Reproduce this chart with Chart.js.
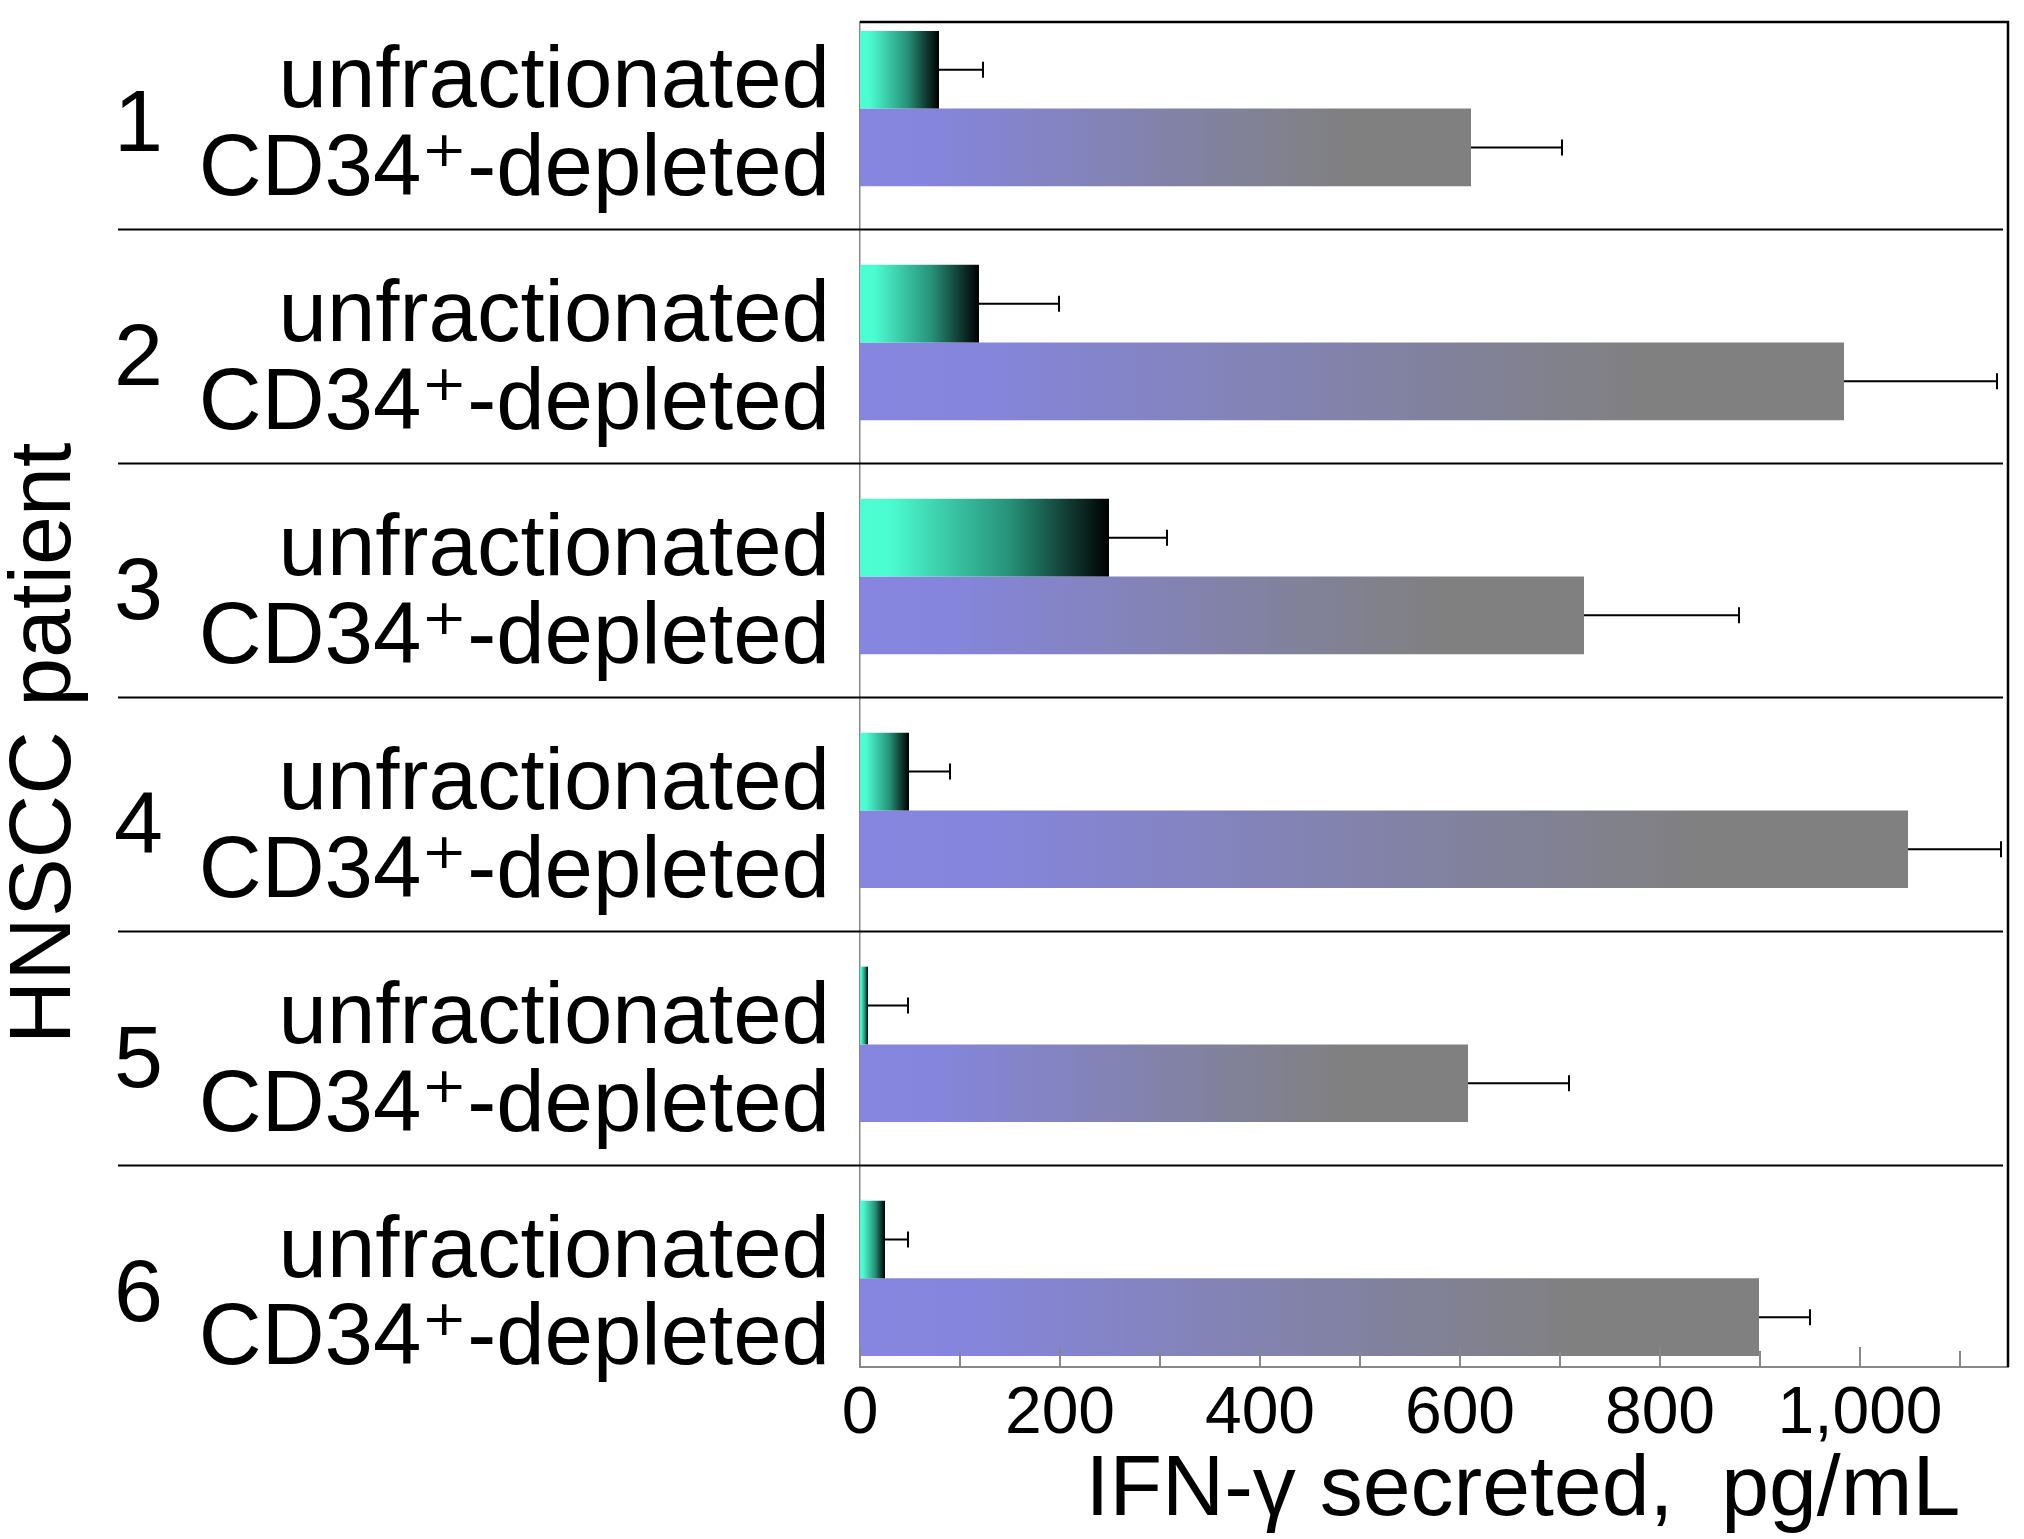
<!DOCTYPE html>
<html>
<head>
<meta charset="utf-8">
<script src="https://cdn.jsdelivr.net/npm/chart.js@4.4.1/dist/chart.umd.min.js"></script>
<style>
  html, body { margin: 0; padding: 0; background: #fff; }
  canvas { display: block; }
</style>
</head>
<body>
<canvas id="graficoIfn" width="2024" height="1539"></canvas>
<script>
// datos (pg/mL)
const patients = ['1', '2', '3', '4', '5', '6'];
const groupLabels = ['unfractionated', 'CD34\u207A-depleted'];
const unfracValues = [79, 119, 249, 49, 8, 25];
const unfracErrors = [44, 80, 58, 41, 40, 23];
const depletedValues = [611, 984, 724, 1048, 608, 899];
const depletedErrors = [91, 153, 155, 93, 101, 51];
const xTickValues = [0, 100, 200, 300, 400, 500, 600, 700, 800, 900, 1000, 1100];
const xTickLabels = ['0', '', '200', '', '400', '', '600', '', '800', '', '1,000', ''];

const FONT = "'Liberation Sans', Arial, 'DejaVu Sans', sans-serif";
const Y_MIN = -0.37, Y_MAX = 5.379;
const LABEL_SHIFT = 0.078;

Chart.defaults.font.family = FONT;
Chart.defaults.color = '#000';

// degradado horizontal de cada barra, desde 0 hasta su valor
function barGradient(stops) {
    return function (context) {
        const chart = context.chart;
        if (!chart.chartArea || context.type !== 'data') return stops[0][1];
        const x = chart.scales.x;
        const x0 = x.getPixelForValue(0);
        const x1 = Math.max(x.getPixelForValue(context.parsed.x), x0 + 1);
        const g = chart.ctx.createLinearGradient(x0, 0, x1, 0);
        stops.forEach(s => g.addColorStop(s[0], s[1]));
        return g;
    };
}

const decoPlugin = {
    id: 'deco',
    afterDatasetsDraw(chart) {
        const ctx = chart.ctx;
        const x = chart.scales.x;
        ctx.save();
        ctx.strokeStyle = '#000';
        ctx.lineWidth = 2;
        chart.data.datasets.forEach((ds, d) => {
            const meta = chart.getDatasetMeta(d);
            meta.data.forEach((bar, i) => {
                const xEnd = x.getPixelForValue(ds.data[i].x + ds.errors[i]);
                ctx.beginPath();
                ctx.moveTo(bar.x, bar.y);
                ctx.lineTo(xEnd, bar.y);
                ctx.moveTo(xEnd, bar.y - 8);
                ctx.lineTo(xEnd, bar.y + 8);
                ctx.stroke();
            });
        });
        ctx.restore();
    },
    afterDraw(chart) {
        const ctx = chart.ctx;
        const area = chart.chartArea;
        const x = chart.scales.x;
        const y = chart.scales.y;
        ctx.save();

        // lineas separadoras entre pacientes
        ctx.strokeStyle = '#000';
        ctx.lineWidth = 2;
        for (let k = 0; k < patients.length - 1; k++) {
            const py = Math.round(y.getPixelForValue(k + 0.515)) + 0.5;
            ctx.beginPath();
            ctx.moveTo(118, py);
            ctx.lineTo(area.right - 5, py);
            ctx.stroke();
        }

        // marcas del eje x hacia dentro
        ctx.strokeStyle = '#888';
        xTickValues.forEach((v, i) => {
            const px = x.getPixelForValue(v);
            const len = xTickLabels[i] ? 20 : 16;
            ctx.beginPath();
            ctx.moveTo(px, area.bottom);
            ctx.lineTo(px, area.bottom - len);
            ctx.stroke();
        });

        // marco superior y derecho
        ctx.strokeStyle = '#000';
        ctx.lineWidth = 2.5;
        ctx.beginPath();
        ctx.moveTo(area.left, area.top);
        ctx.lineTo(area.right, area.top);
        ctx.lineTo(area.right, area.bottom);
        ctx.stroke();
        ctx.restore();
    }
};

const ctx = document.getElementById('graficoIfn').getContext('2d');

new Chart(ctx, {
    type: 'bar',
    data: {
        datasets: [
            {
                label: groupLabels[0],
                data: unfracValues.map((v, i) => ({ x: v, y: i })),
                errors: unfracErrors,
                backgroundColor: barGradient([[0, '#4effd3'], [0.12, '#4cfcd1'], [0.6, '#27927a'], [1, '#000000']]),
                borderWidth: 0
            },
            {
                label: groupLabels[1],
                data: depletedValues.map((v, i) => ({ x: v, y: i })),
                errors: depletedErrors,
                backgroundColor: barGradient([[0, '#8686e0'], [0.12, '#8585dd'], [0.8, '#808080'], [1, '#808080']]),
                borderWidth: 0
            }
        ]
    },
    options: {
        indexAxis: 'y',
        responsive: false,
        animation: false,
        categoryPercentage: 0.664,
        barPercentage: 1,
        layout: { padding: { top: 22, right: 16, bottom: 0, left: 0 } },
        plugins: {
            legend: { display: false },
            tooltip: { enabled: false }
        },
        scales: {
            x: {
                type: 'linear',
                min: 0,
                max: 1148,
                grid: { display: false, drawTicks: false },
                border: { display: true, color: '#888', width: 2 },
                afterBuildTicks: scale => { scale.ticks = xTickValues.map(v => ({ value: v })); },
                afterFit: scale => { scale.height = 172; scale.paddingLeft = 0; scale.paddingRight = 0; },
                ticks: {
                    autoSkip: false,
                    maxRotation: 0,
                    padding: 8,
                    font: { size: 66 },
                    color: '#000',
                    callback: (value, index) => xTickLabels[index]
                },
                title: {
                    display: true,
                    text: 'IFN-\u03B3 secreted,  pg/mL  ',
                    align: 'end',
                    font: { size: 86, lineHeight: 1 },
                    color: '#000',
                    padding: { top: 0, bottom: 5 }
                }
            },
            y: {
                type: 'linear',
                position: 'left',
                reverse: true,
                offset: false,
                min: Y_MIN,
                max: Y_MAX,
                weight: 0,
                grid: { display: false, drawTicks: false },
                border: { display: true, color: '#888', width: 1.5 },
                afterBuildTicks: scale => { scale.ticks = patients.map((p, i) => ({ value: i + LABEL_SHIFT })); },
                afterFit: scale => { scale.width = 685; scale.paddingTop = 0; scale.paddingBottom = 0; },
                ticks: {
                    autoSkip: false,
                    padding: 30,
                    font: { size: 87, lineHeight: 1.01 },
                    color: '#000',
                    callback: () => groupLabels
                }
            },
            yNum: {
                type: 'linear',
                position: 'left',
                reverse: true,
                offset: false,
                min: Y_MIN,
                max: Y_MAX,
                weight: 1,
                grid: { display: false, drawTicks: false },
                border: { display: false },
                afterBuildTicks: scale => { scale.ticks = patients.map((p, i) => ({ value: i + LABEL_SHIFT })); },
                afterFit: scale => { scale.width = 175; scale.paddingTop = 0; scale.paddingBottom = 0; },
                ticks: {
                    autoSkip: false,
                    crossAlign: 'center',
                    padding: 12,
                    font: { size: 88 },
                    color: '#000',
                    callback: (value, index) => patients[index]
                },
                title: {
                    display: true,
                    text: 'HNSCC patient    ',
                    font: { size: 88, lineHeight: 1 },
                    color: '#000',
                    padding: { top: 2, bottom: 0 }
                }
            }
        }
    },
    plugins: [decoPlugin]
});
</script>
</body>
</html>
